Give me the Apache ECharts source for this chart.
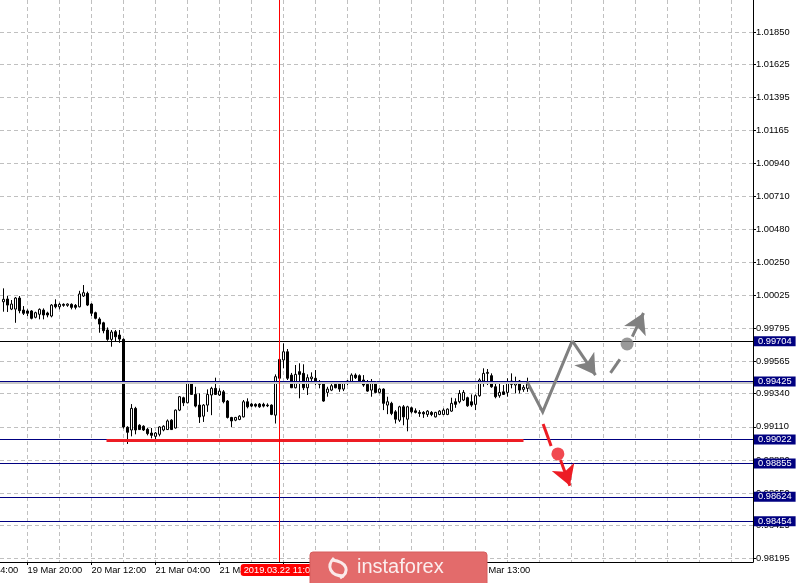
<!DOCTYPE html>
<html><head><meta charset="utf-8">
<script src="https://cdn.jsdelivr.net/npm/echarts@6/dist/echarts.min.js"></script>
<style>html,body{margin:0;padding:0;background:#fff}#c{width:798px;height:583px}</style>
</head><body><div id="c"></div>
<script>
// ---- data (H1 candles) ----
const firstCandleTime = '2019.03.19 14:00';
const open = [0.99978,0.99997,0.99927,0.99927,1.00004,0.99920,0.99914,0.99914,0.99870,0.99891,
0.99920,0.99900,0.99879,0.99960,0.99943,0.99960,0.99953,0.99960,0.99953,0.99943,
1.00018,1.00036,0.99962,0.99902,0.99858,0.99832,0.99782,0.99717,0.99770,0.99747,
0.99717,0.99107,0.99088,0.99238,0.99121,0.99114,0.99093,0.99067,0.99044,0.99058,
0.99088,0.99091,0.99156,0.99102,0.99226,0.99312,0.99277,0.99416,0.99335,0.99261,
0.99184,0.99261,0.99331,0.99377,0.99331,0.99353,0.99289,0.99175,0.99156,0.99161,
0.99179,0.99284,0.99268,0.99266,0.99268,0.99266,0.99261,0.99261,0.99191,0.99447,
0.99574,0.99631,0.99469,0.99381,0.99493,0.99481,0.99381,0.99444,0.99447,0.99423,
0.99412,0.99349,0.99365,0.99405,0.99412,0.99372,0.99428,0.99423,0.99469,0.99465,
0.99435,0.99405,0.99365,0.99412,0.99349,0.99372,0.99261,0.99273,0.99214,0.99156,
0.99249,0.99163,0.99242,0.99221,0.99210,0.99210,0.99196,0.99210,0.99179,0.99196,
0.99196,0.99196,0.99219,0.99284,0.99284,0.99296,0.99312,0.99284,0.99266,0.99326,
0.99428,0.99481,0.99465,0.99388,0.99326,0.99353,0.99349,0.99428,0.99400,0.99428,
0.99370,0.99377];
const close = [0.99995,0.99955,0.99962,1.00004,0.99916,0.99898,0.99898,0.99863,0.99902,0.99925,
0.99886,0.99886,0.99955,0.99943,0.99960,0.99953,0.99962,0.99939,0.99939,1.00032,
1.00041,0.99955,0.99898,0.99863,0.99823,0.99777,0.99717,0.99768,0.99735,0.99719,
0.99109,0.99072,0.99238,0.99088,0.99091,0.99088,0.99063,0.99051,0.99067,0.99109,
0.99114,0.99151,0.99091,0.99226,0.99319,0.99277,0.99416,0.99335,0.99254,0.99179,
0.99261,0.99335,0.99377,0.99335,0.99358,0.99284,0.99175,0.99151,0.99175,0.99184,
0.99284,0.99249,0.99254,0.99254,0.99249,0.99254,0.99256,0.99196,0.99458,0.99578,
0.99631,0.99447,0.99381,0.99474,0.99474,0.99381,0.99451,0.99456,0.99423,0.99405,
0.99289,0.99372,0.99395,0.99381,0.99372,0.99412,0.99412,0.99469,0.99451,0.99428,
0.99400,0.99358,0.99421,0.99349,0.99372,0.99273,0.99284,0.99203,0.99163,0.99249,
0.99179,0.99249,0.99214,0.99210,0.99203,0.99200,0.99219,0.99196,0.99210,0.99219,
0.99226,0.99233,0.99273,0.99266,0.99342,0.99349,0.99256,0.99261,0.99326,0.99435,
0.99481,0.99488,0.99388,0.99319,0.99349,0.99335,0.99423,0.99405,0.99419,0.99365,
0.99384,0.99423];
const low = [0.99909,0.99907,0.99920,0.99832,0.99898,0.99886,0.99879,0.99856,0.99863,0.99856,
0.99856,0.99870,0.99870,0.99932,0.99925,0.99943,0.99943,0.99925,0.99925,0.99939,
1.00011,0.99948,0.99879,0.99856,0.99763,0.99759,0.99707,0.99666,0.99700,0.99693,
0.99098,0.98991,0.99044,0.99058,0.99088,0.99081,0.99051,0.99030,0.99023,0.99044,
0.99079,0.99088,0.99088,0.99098,0.99219,0.99254,0.99273,0.99331,0.99245,0.99137,
0.99144,0.99214,0.99191,0.99331,0.99324,0.99273,0.99168,0.99109,0.99149,0.99156,
0.99175,0.99238,0.99247,0.99245,0.99242,0.99245,0.99247,0.99191,0.99133,0.99444,
0.99516,0.99435,0.99379,0.99377,0.99308,0.99365,0.99331,0.99423,0.99400,0.99377,
0.99284,0.99319,0.99358,0.99377,0.99353,0.99358,0.99400,0.99419,0.99442,0.99423,
0.99388,0.99353,0.99319,0.99342,0.99342,0.99226,0.99198,0.99191,0.99133,0.99144,
0.99121,0.99079,0.99203,0.99203,0.99179,0.99172,0.99179,0.99184,0.99175,0.99191,
0.99191,0.99191,0.99214,0.99242,0.99273,0.99289,0.99249,0.99249,0.99226,0.99319,
0.99388,0.99400,0.99381,0.99308,0.99312,0.99331,0.99319,0.99377,0.99342,0.99342,
0.99353,0.99353];
const high = [1.00071,1.00018,0.99990,1.00011,1.00018,0.99948,0.99925,0.99920,0.99909,0.99932,
0.99932,0.99909,0.99962,0.99995,0.99971,0.99967,0.99967,0.99967,0.99962,1.00054,
1.00094,1.00048,0.99967,0.99909,0.99870,0.99839,0.99800,0.99782,0.99782,0.99782,
0.99724,0.99114,0.99268,0.99249,0.99128,0.99121,0.99102,0.99102,0.99074,0.99114,
0.99121,0.99161,0.99163,0.99231,0.99324,0.99319,0.99423,0.99421,0.99388,0.99342,
0.99268,0.99370,0.99388,0.99451,0.99377,0.99365,0.99296,0.99179,0.99179,0.99191,
0.99296,0.99308,0.99275,0.99273,0.99275,0.99277,0.99273,0.99266,0.99474,0.99643,
0.99689,0.99650,0.99484,0.99539,0.99551,0.99544,0.99474,0.99488,0.99504,0.99435,
0.99419,0.99388,0.99407,0.99423,0.99423,0.99423,0.99435,0.99481,0.99481,0.99474,
0.99469,0.99435,0.99442,0.99423,0.99377,0.99377,0.99319,0.99284,0.99226,0.99256,
0.99261,0.99256,0.99249,0.99238,0.99226,0.99219,0.99226,0.99219,0.99214,0.99226,
0.99238,0.99238,0.99312,0.99308,0.99365,0.99365,0.99319,0.99335,0.99335,0.99447,
0.99516,0.99511,0.99481,0.99412,0.99412,0.99400,0.99447,0.99481,0.99458,0.99435,
0.99400,0.99451];

// price axis tick labels (right scale)
const yTickLabels = ['1.01850','1.01625','1.01395','1.01165','1.00940','1.00710','1.00480','1.00250',
  '1.00025','0.99795','0.99565','0.99340','0.99110','0.98880','0.98650','0.98425','0.98195'];
// time axis tick labels
const xTickTimes = ['2019.03.19 04:00','2019.03.19 20:00','2019.03.20 12:00','2019.03.21 04:00',
  '2019.03.21 20:00','2019.03.22 12:00','2019.03.25 05:00','2019.03.25 21:00','2019.03.26 13:00'];
// horizontal levels (navy price labels)
const levelPrices = [0.99704, 0.99425, 0.99022, 0.98855, 0.98624, 0.98454];
const levelColors = ['#000000', '#000080', '#000080', '#000080', '#000080', '#000080'];
const bidPrice = 0.99415;
const crosshairTime = '2019.03.22 11:00';
const crosshairPrice = 0.99704;
// support line (bar slot from first candle, price)
const supportLine = [[25.75, 0.99015], [130, 0.99015]];
// scenario drawings, x in bar slots, y in price
const grayPath = [[130.9, 0.99423], [134.8, 0.99214], [142.2, 0.99707]];
const grayArrow1 = [[142.2, 0.99707], [148.0, 0.99469]];
const grayDash = [[151.75, 0.99485], [154.1, 0.99578]];
const grayArrow2 = [[157.2, 0.99736], [160.0, 0.99900]];
const grayDot = [155.9, 0.99685];
const redDash = [[134.9, 0.99129], [136.9, 0.98977]];
const redDot = [138.6, 0.98922];
const redArrow = [[139.25, 0.98880], [141.6, 0.98701]];

const yMin = 0.98172, yMax = 1.02072;
const xMin = -0.875, xMax = 187.375;
const gridStep = 8;

// ---- hourly time slots (weekend skipped) ----
const MONTHS = ['Jan','Feb','Mar','Apr','May','Jun','Jul','Aug','Sep','Oct','Nov','Dec'];
function pad(n) { return (n < 10 ? '0' : '') + n; }
function fmtTime(t) {
  const d = new Date(t);
  return d.getUTCFullYear() + '.' + pad(d.getUTCMonth() + 1) + '.' + pad(d.getUTCDate()) + ' ' + pad(d.getUTCHours()) + ':00';
}
const weekendFrom = Date.UTC(2019, 2, 22, 23), weekendTo = Date.UTC(2019, 2, 25, 0);
const slotTimes = [];
for (let t = Date.UTC(2019, 2, 19, 3); slotTimes.length < 220; t += 3600000) {
  if (t >= weekendFrom && t < weekendTo) continue;
  slotTimes.push(fmtTime(t));
}
const startK = slotTimes.indexOf(firstCandleTime);
function slotOf(time) { return slotTimes.indexOf(time) - startK; }
function timeOf(slot) { return slotTimes[Math.round(slot) + startK]; }
function fmtLabel(v) {
  const p = String(v).split(' '); const d = p[0].split('.');
  return d[2] + ' ' + MONTHS[+d[1] - 1] + ' ' + p[1];
}
const candleData = open.map(function (o, i) { return [i, o, close[i], low[i], high[i]]; });
const xTickSlots = xTickTimes.map(slotOf);
const gridSlots = [];
for (let s = xTickSlots[0]; s <= xMax; s += gridStep) { if (s >= xMin) gridSlots.push(s); }
const crossSlot = slotOf(crosshairTime);
const yTickValues = yTickLabels.map(Number);

const FONT = 'Liberation Sans';
const chart = echarts.init(document.getElementById('c'), null, { renderer: 'canvas' });
chart.setOption({
  animation: false,
  backgroundColor: '#ffffff',
  grid: { left: 0, right: 45, top: 0, bottom: 21, containLabel: false },
  xAxis: [{
    type: 'value', min: xMin, max: xMax, position: 'bottom',
    axisLine: { show: true, onZero: false, lineStyle: { color: '#000', width: 1 } },
    axisTick: { show: true, length: 3, customValues: xTickSlots, lineStyle: { color: '#000' } },
    axisLabel: { customValues: xTickSlots, formatter: function (v) { return fmtLabel(timeOf(v)); },
      align: 'left', margin: 4, color: '#000', fontSize: 9.3, fontFamily: FONT, showMinLabel: true, showMaxLabel: true },
    splitLine: { show: false },
    axisPointer: {
      show: true, type: 'line', value: crossSlot, status: 'show', snap: false, triggerTooltip: false,
      lineStyle: { color: '#ff0000', width: 1, type: 'solid' },
      label: { show: true, formatter: function (p) { return timeOf(p.value); }, backgroundColor: '#ff0000', color: '#fff',
        padding: [2, 3, 1, 3], fontSize: 9.3, fontFamily: FONT, margin: 2 }
    }
  }, {
    type: 'value', min: xMin, max: xMax, position: 'top',
    axisLine: { show: false }, axisLabel: { show: false },
    axisTick: { show: false, customValues: gridSlots },
    splitLine: { show: true, lineStyle: { color: '#c0c0c0', width: 1, type: [4, 3] } }
  }],
  yAxis: [{
    type: 'value', position: 'right', min: yMin, max: yMax,
    axisLine: { show: true, onZero: false, lineStyle: { color: '#000', width: 1 } },
    axisTick: { show: true, length: 3, customValues: yTickValues, lineStyle: { color: '#000' } },
    axisLabel: { customValues: yTickValues, formatter: function (v) { return (+v).toFixed(5); }, margin: 3, color: '#000', fontSize: 9.3, fontFamily: FONT },
    splitLine: { show: true, lineStyle: { color: '#c0c0c0', width: 1, type: [4, 3] } }
  }],
  series: [{
    type: 'candlestick', data: candleData, barWidth: 2, silent: true,
    itemStyle: { color: '#ffffff', color0: '#000000', borderColor: '#000000', borderColor0: '#000000', borderWidth: 1 }
  }, {
    type: 'line', data: [], clip: false, silent: true, z: 4,
    markLine: {
      silent: true, symbol: 'none', animation: false, precision: 5,
      data: [{ yAxis: bidPrice, lineStyle: { color: '#c8c8c8', width: 2, type: 'solid' }, label: { show: false } }].concat(
        levelPrices.map(function (p, j) {
          return {
            yAxis: p, lineStyle: { color: levelColors[j], width: 1, type: 'solid' },
            label: { show: true, position: 'end', distance: 1, formatter: function (pr) { return (+pr.value).toFixed(5); },
              color: '#ffffff', backgroundColor: '#000080', padding: [1, 4, 0, 4], fontSize: 9.3, fontFamily: FONT }
          };
        }))
    }
  }, {
    type: 'line', silent: true, z: 4, symbol: 'none',
    data: [[crossSlot, yMax], [crossSlot, crosshairPrice]], lineStyle: { color: '#000', width: 1 }
  }, {
    type: 'line', silent: true, z: 5, symbol: 'none',
    data: supportLine, lineStyle: { color: '#ed1c24', width: 3 }
  }, {
    type: 'line', silent: true, z: 5, symbol: 'none',
    data: grayPath, lineStyle: { color: '#808080', width: 3, join: 'miter' }
  }, {
    type: 'line', silent: true, z: 5, symbol: 'none',
    data: grayDash, lineStyle: { color: '#808080', width: 3 }
  }, {
    type: 'line', silent: true, z: 5, symbol: 'none',
    data: redDash, lineStyle: { color: '#ed1c24', width: 3 }
  }, {
    type: 'lines', coordinateSystem: 'cartesian2d', xAxisIndex: 0, yAxisIndex: 0, silent: true, z: 5,
    symbol: ['none', 'arrow'], symbolSize: [1, [18, 20]],
    lineStyle: { color: '#808080', width: 3, opacity: 1 },
    data: [{ coords: grayArrow1 }, { coords: grayArrow2 }]
  }, {
    type: 'lines', coordinateSystem: 'cartesian2d', xAxisIndex: 0, yAxisIndex: 0, silent: true, z: 5,
    symbol: ['none', 'arrow'], symbolSize: [1, [18, 20]],
    lineStyle: { color: '#ed1c24', width: 3, opacity: 1 },
    data: [{ coords: redArrow }]
  }, {
    type: 'scatter', silent: true, z: 6, symbol: 'circle', symbolSize: 13,
    data: [{ value: grayDot, itemStyle: { color: '#808080' } }, { value: redDot, itemStyle: { color: '#ed1c24' } }]
  }]
});

// first (partly hidden) time label left of the plot, placed through the axis scale
const firstLabelX = chart.convertToPixel({ xAxisIndex: 0 }, xTickSlots[0]);
const axisY = chart.convertToPixel({ yAxisIndex: 0 }, yMin);
chart.setOption({
  graphic: [
    { type: 'text', x: firstLabelX, y: axisY + 4, z: 10,
      style: { text: fmtLabel(xTickTimes[0]), font: '9.3px "Liberation Sans"', fill: '#000', align: 'left', verticalAlign: 'top' } },
    { type: 'rect', x: 310, y: 552, z: 100, shape: { x: 0, y: 0, width: 177, height: 32, r: [3, 3, 0, 0] }, style: { fill: '#e36b6b', stroke: '#d65d5d', lineWidth: 1 } },
    { type: 'bezierCurve', x: 310, y: 552, z: 101, shape: { x1: 22, y1: 8, cpx1: 38, cpy1: 10, cpx2: 40, cpy2: 20, x2: 30, y2: 26 }, style: { stroke: '#fbeaea', lineWidth: 3, fill: null } },
    { type: 'bezierCurve', x: 310, y: 552, z: 101, shape: { x1: 34, y1: 24, cpx1: 20, cpy1: 24, cpx2: 16, cpy2: 14, x2: 24, y2: 6 }, style: { stroke: '#fbeaea', lineWidth: 3, fill: null } },
    { type: 'text', x: 357, y: 567, z: 101, style: { text: 'instaforex', font: '20px "Liberation Sans"', fill: '#fbeeee', verticalAlign: 'middle', align: 'left' } }
  ]
});
</script>
</body></html>
